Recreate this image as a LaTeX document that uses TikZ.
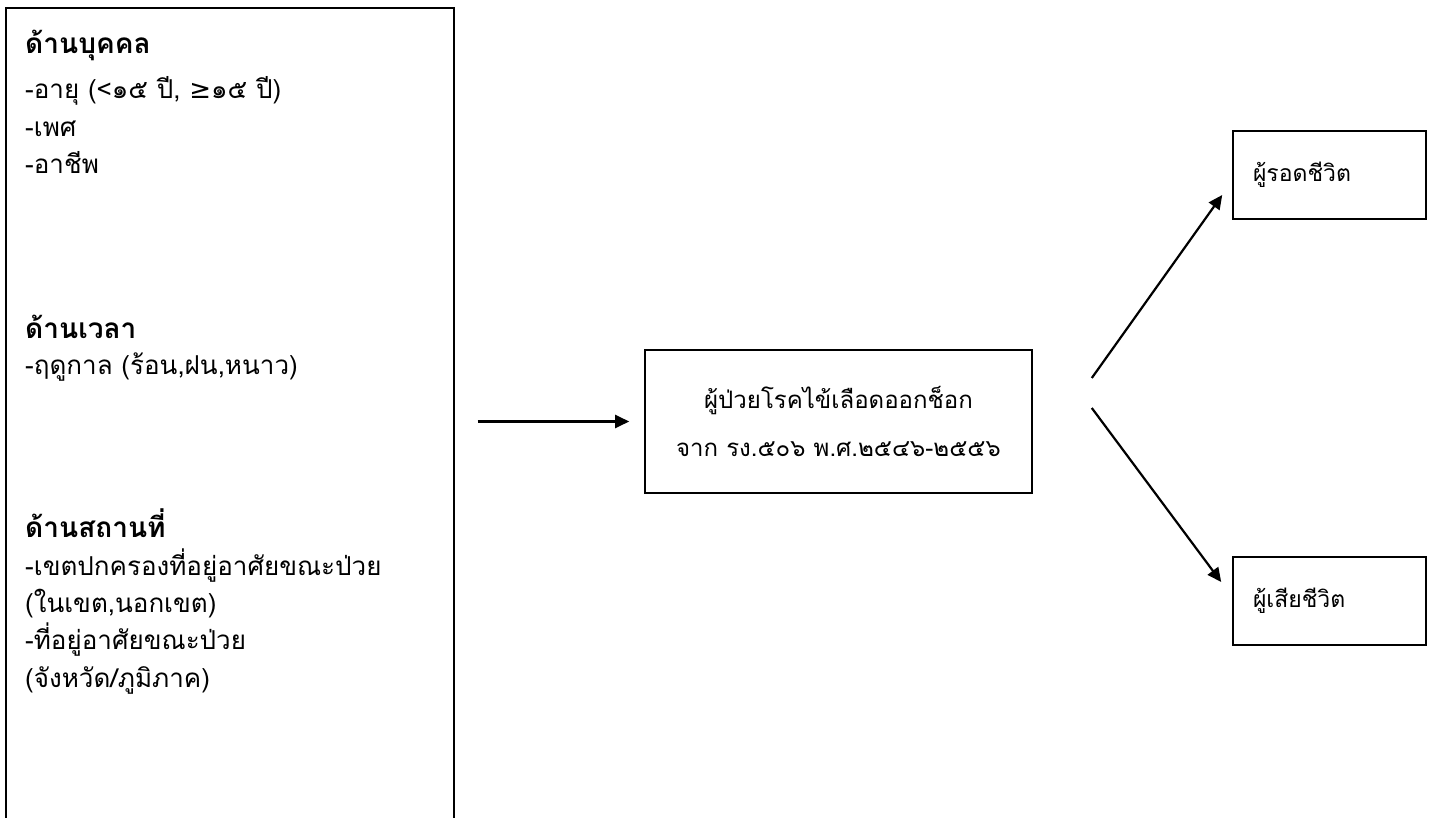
\documentclass[tikz,border=0pt]{standalone}
\usepackage{fontspec}
\setmainfont{Loma}[Script=Thai]
\newfontfamily\symf{DejaVu Sans}
\usetikzlibrary{arrows.meta,calc}
\tikzset{
  box/.style={draw=black, line width=1.6pt, inner sep=0pt},
  txt/.style={anchor=base west, inner sep=0pt, font=\fontsize{26}{30}\selectfont},
  hd/.style={txt, font=\fontsize{28}{30}\selectfont\bfseries},
  arr/.style={line width=2.2pt, -{Triangle[length=14pt,width=13pt]}},
  rbox/.style={box, minimum width=193pt, minimum height=88pt, text width=153pt,
      inner xsep=20pt, align=left, font=\fontsize{23}{26}\selectfont},
}
\begin{document}
\begin{tikzpicture}[x=1pt,y=-1pt]
\useasboundingbox (0,0) rectangle (1430,818);
\clip (0,0) rectangle (1430,818);
\fill[white] (0,0) rectangle (1430,818);
% left box
\node[box, minimum width=448pt, minimum height=830pt, anchor=north west] (left) at (5,7) {};
\node[hd]  (h1) at (25,54)  {ด้านบุคคล};
\node[txt] (l1) at (25,99)  {-อายุ (<๑๕ ปี, {\symf ≥}๑๕ ปี)};
\node[txt] (l2) at (25,137) {-เพศ};
\node[txt] (l3) at (25,174) {-อาชีพ};
\node[hd]  (h2) at (25,339) {ด้านเวลา};
\node[txt] (l4) at (25,374) {-ฤดูกาล (ร้อน,ฝน,หนาว)};
\node[hd]  (h3) at (25,537) {ด้านสถานที่};
\node[txt] (l5) at (25,575) {-เขตปกครองที่อยู่อาศัยขณะป่วย};
\node[txt] (l6) at (25,612) {(ในเขต,นอกเขต)};
\node[txt] (l7) at (25,649) {-ที่อยู่อาศัยขณะป่วย};
\node[txt] (l8) at (25,687) {(จังหวัด/ภูมิภาค)};
% centre box
\node[box, minimum width=387pt, minimum height=143pt, align=center,
      font=\fontsize{24}{48}\selectfont] (mid) at (838.5,421.5)
      {ผู้ป่วยโรคไข้เลือดออกช็อก\\จาก รง.๕๐๖ พ.ศ.๒๕๔๖-๒๕๕๖};
% right boxes
\node[rbox] (top) at (1329.5,175) {ผู้รอดชีวิต};
\node[rbox] (bot) at (1329.5,601) {ผู้เสียชีวิต};
% connectors
\draw[arr, shorten <=23pt, shorten >=15pt] (left.east |- mid.west) -- (mid.west);
\draw[arr] ($(mid.east)+(59,-43.5)$) -- ($(top.west)+(-10,20)$);
\draw[arr] ($(mid.east)+(59,-13.5)$) -- ($(bot.west)+(-11,-19)$);
\end{tikzpicture}
\end{document}
